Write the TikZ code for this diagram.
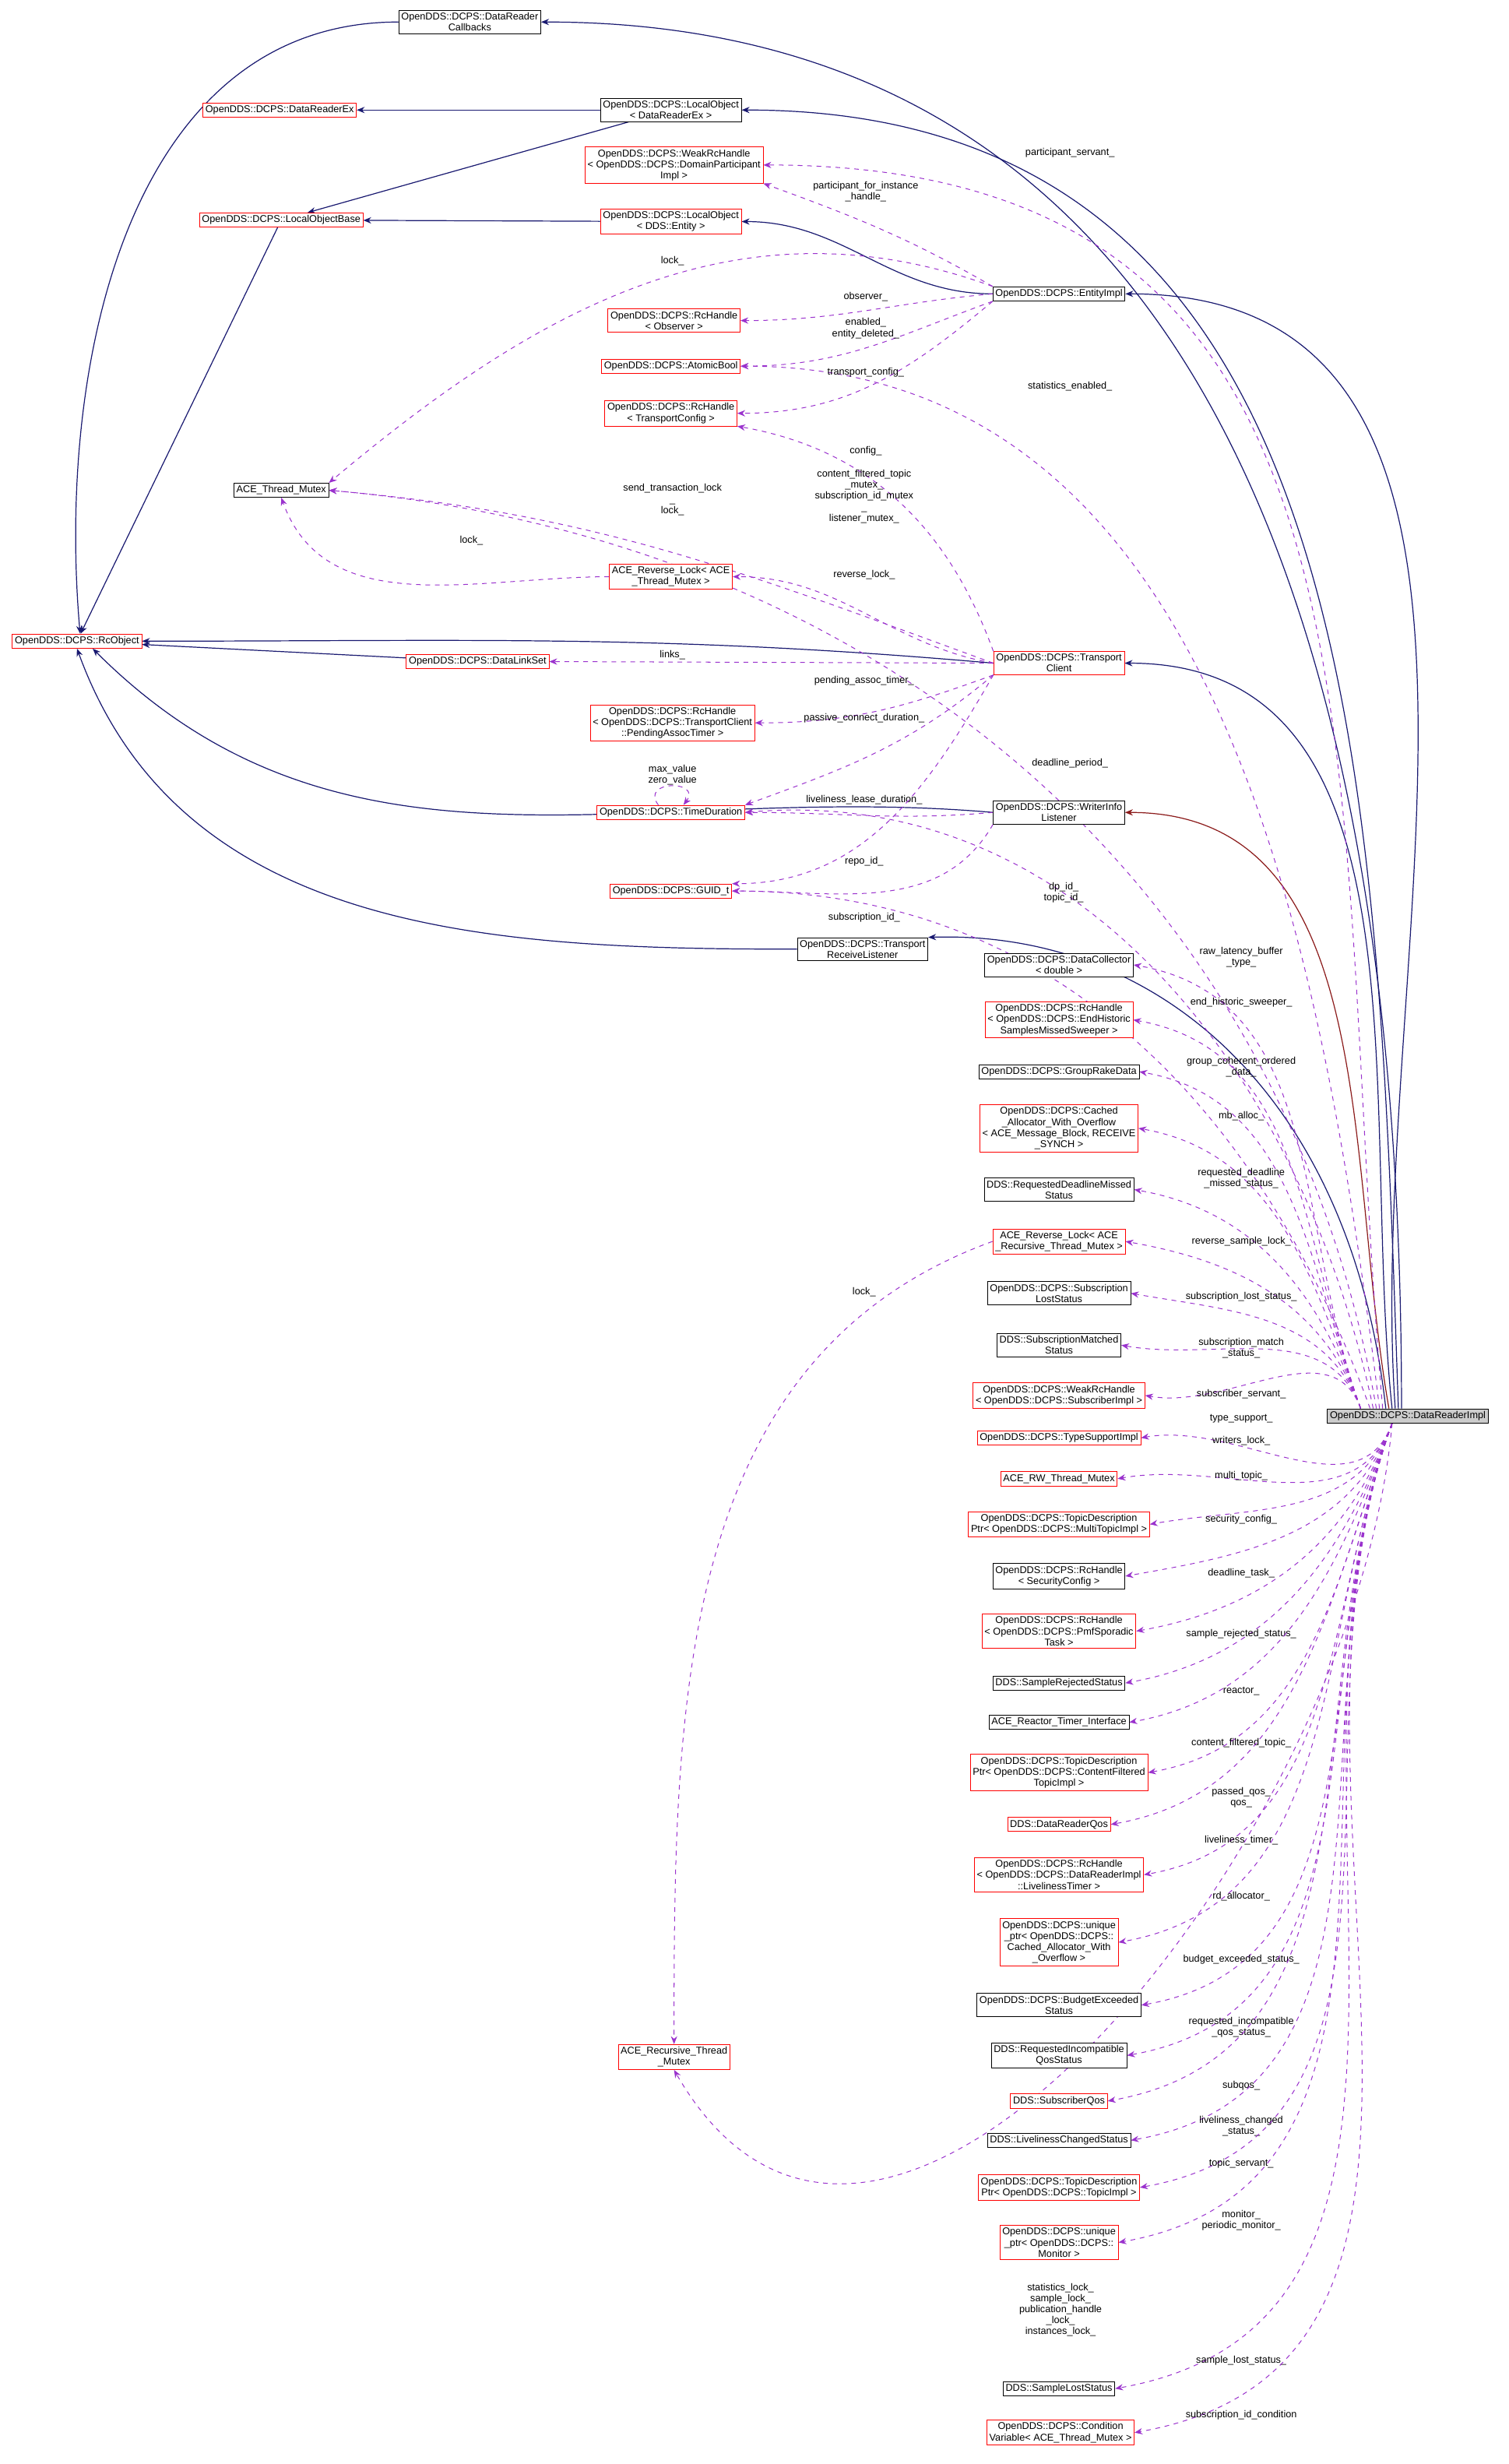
\documentclass[tikz,border=0pt]{standalone}
\usepackage{fontspec}
\setmainfont{Liberation Sans}
\usetikzlibrary{arrows.meta,backgrounds}
\definecolor{inhcol}{HTML}{191970}
\definecolor{privcol}{HTML}{8B1A1A}
\definecolor{usecol}{HTML}{9A32CD}
\tikzset{
  cls/.style={draw=black, inner sep=1.6pt, align=center, font=\fontsize{6.3}{7}\selectfont, fill=white},
  rcls/.style={cls, draw=red},
  lbl/.style={inner sep=0pt, align=center, font=\fontsize{6.3}{7}\selectfont},
  inh/.style={draw=inhcol, line width=0.6pt, -{Stealth[length=5pt,width=4pt]}},
  priv/.style={inh, draw=privcol},
  use/.style={draw=usecol, dashed, line width=0.5pt, -{Stealth[length=5pt,width=4pt]}, fill=none},
}
\begin{document}
\begin{tikzpicture}[x=1pt,y=1pt]
\useasboundingbox (0,0) rectangle (960,-1568);

% left and middle classes
\node[cls]  (cb)   at (299,-14)  {OpenDDS::DCPS::DataReader\\Callbacks};
\node[rcls] (drex) at (178,-70)  {OpenDDS::DCPS::DataReaderEx};
\node[cls]  (lodr) at (427,-70)  {OpenDDS::DCPS::LocalObject\\< DataReaderEx >};
\node[rcls] (wdp)  at (429,-105) {OpenDDS::DCPS::WeakRcHandle\\< OpenDDS::DCPS::DomainParticipant\\Impl >};
\node[rcls] (lob)  at (179,-140) {OpenDDS::DCPS::LocalObjectBase};
\node[rcls] (loe)  at (427,-141) {OpenDDS::DCPS::LocalObject\\< DDS::Entity >};
\node[cls]  (ent)  at (674,-187) {OpenDDS::DCPS::EntityImpl};
\node[rcls] (obs)  at (429,-204) {OpenDDS::DCPS::RcHandle\\< Observer >};
\node[rcls] (ab)   at (427,-233) {OpenDDS::DCPS::AtomicBool};
\node[rcls] (tcfg) at (427,-263) {OpenDDS::DCPS::RcHandle\\< TransportConfig >};
\node[cls]  (tm)   at (179,-312) {ACE\_Thread\_Mutex};
\node[rcls] (rl)   at (427,-367) {ACE\_Reverse\_Lock< ACE\\\_Thread\_Mutex >};
\node[rcls] (rco)  at (49,-408)  {OpenDDS::DCPS::RcObject};
\node[rcls] (dls)  at (304,-421) {OpenDDS::DCPS::DataLinkSet};
\node[rcls] (tc)   at (674,-422) {OpenDDS::DCPS::Transport\\Client};
\node[rcls] (pat)  at (428,-460) {OpenDDS::DCPS::RcHandle\\< OpenDDS::DCPS::TransportClient\\::PendingAssocTimer >};
\node[rcls] (td)   at (427,-517) {OpenDDS::DCPS::TimeDuration};
\node[cls]  (wil)  at (674,-517) {OpenDDS::DCPS::WriterInfo\\Listener};
\node[rcls] (guid) at (427,-567) {OpenDDS::DCPS::GUID\_t};
\node[cls]  (trl)  at (549,-604) {OpenDDS::DCPS::Transport\\ReceiveListener};
\node[rcls] (rtm)  at (429,-1309) {ACE\_Recursive\_Thread\\\_Mutex};

% right column
\node[cls]  (dc)   at (674,-614)  {OpenDDS::DCPS::DataCollector\\< double >};
\node[rcls] (ehs)  at (674,-649)  {OpenDDS::DCPS::RcHandle\\< OpenDDS::DCPS::EndHistoric\\SamplesMissedSweeper >};
\node[cls]  (grd)  at (674,-682)  {OpenDDS::DCPS::GroupRakeData};
\node[rcls] (cao)  at (674,-718)  {OpenDDS::DCPS::Cached\\\_Allocator\_With\_Overflow\\< ACE\_Message\_Block, RECEIVE\\\_SYNCH >};
\node[cls]  (rdm)  at (674,-757)  {DDS::RequestedDeadlineMissed\\Status};
\node[rcls] (rrl)  at (674,-790)  {ACE\_Reverse\_Lock< ACE\\\_Recursive\_Thread\_Mutex >};
\node[cls]  (sls)  at (674,-823)  {OpenDDS::DCPS::Subscription\\LostStatus};
\node[cls]  (sms)  at (674,-856)  {DDS::SubscriptionMatched\\Status};
\node[rcls] (wsi)  at (674,-888)  {OpenDDS::DCPS::WeakRcHandle\\< OpenDDS::DCPS::SubscriberImpl >};
\node[rcls] (tsi)  at (674,-915)  {OpenDDS::DCPS::TypeSupportImpl};
\node[rcls] (rw)   at (674,-941)  {ACE\_RW\_Thread\_Mutex};
\node[rcls] (mt)   at (674,-970)  {OpenDDS::DCPS::TopicDescription\\Ptr< OpenDDS::DCPS::MultiTopicImpl >};
\node[cls]  (sec)  at (674,-1003) {OpenDDS::DCPS::RcHandle\\< SecurityConfig >};
\node[rcls] (pmf)  at (674,-1038) {OpenDDS::DCPS::RcHandle\\< OpenDDS::DCPS::PmfSporadic\\Task >};
\node[cls]  (srs)  at (674,-1071) {DDS::SampleRejectedStatus};
\node[cls]  (rti)  at (674,-1096) {ACE\_Reactor\_Timer\_Interface};
\node[rcls] (cft)  at (674,-1128) {OpenDDS::DCPS::TopicDescription\\Ptr< OpenDDS::DCPS::ContentFiltered\\TopicImpl >};
\node[rcls] (drq)  at (674,-1161) {DDS::DataReaderQos};
\node[rcls] (lt)   at (674,-1193) {OpenDDS::DCPS::RcHandle\\< OpenDDS::DCPS::DataReaderImpl\\::LivelinessTimer >};
\node[rcls] (upc)  at (674,-1236) {OpenDDS::DCPS::unique\\\_ptr< OpenDDS::DCPS::\\Cached\_Allocator\_With\\\_Overflow >};
\node[cls]  (bes)  at (674,-1276) {OpenDDS::DCPS::BudgetExceeded\\Status};
\node[cls]  (riq)  at (674,-1308) {DDS::RequestedIncompatible\\QosStatus};
\node[rcls] (sq)   at (674,-1337) {DDS::SubscriberQos};
\node[cls]  (lcs)  at (674,-1362) {DDS::LivelinessChangedStatus};
\node[rcls] (tpi)  at (674,-1392) {OpenDDS::DCPS::TopicDescription\\Ptr< OpenDDS::DCPS::TopicImpl >};
\node[rcls] (upm)  at (674,-1427) {OpenDDS::DCPS::unique\\\_ptr< OpenDDS::DCPS::\\Monitor >};
\node[cls]  (slo)  at (674,-1520) {DDS::SampleLostStatus};
\node[rcls] (cv)   at (675,-1548) {OpenDDS::DCPS::Condition\\Variable< ACE\_Thread\_Mutex >};

\node[cls, fill=black!20] (dri) at (896,-901) {OpenDDS::DCPS::DataReaderImpl};

\begin{scope}[on background layer]
% inheritance
\draw[inh] ([xshift=-4]dri.north) to[out=90,in=0,looseness=1.1] (cb.east);
\draw[inh] ([xshift=-6]dri.north) to[out=92,in=0,looseness=1.1] (lodr.east);
\draw[inh] ([xshift=-8]dri.north) to[out=94,in=0] (ent.east);
\draw[inh] ([xshift=-10]dri.north) to[out=96,in=0] (tc.east);
\draw[priv] ([xshift=-12]dri.north) to[out=100,in=0] (wil.east);
\draw[inh] ([xshift=-14]dri.north) .. controls (860,-700) and (740,-592) .. (trl.north east);
\draw[inh] (lodr) -- (drex);
\draw[inh] (lodr) -- (lob);
\draw[inh] (loe) -- (lob);
\draw[inh] (ent) to[out=180,in=0] (loe);
\draw[inh] (lob) -- (rco);
\draw[inh] (cb.west) to[out=180,in=95] ([xshift=2]rco.north);
\draw[inh] (dls) -- (rco);
\draw[inh] (tc.west) to[out=175,in=0] (rco.east);
\draw[inh] (wil.west) to[out=175,in=-45] ([xshift=10]rco.south);
\draw[inh] (trl.west) to[out=180,in=-70] (rco.south);

% usage, upper part
\draw[use] ([xshift=-16]dri.north) to[out=95,in=0,looseness=1.2] (wdp.east);
\node[lbl] (l1) at (681,-97) {participant\_servant\_};
\draw[use] (ent.north west) to[out=150,in=-20] (wdp.south east);
\node[lbl] (l2) at (551,-122) {participant\_for\_instance\\\_handle\_};
\draw[use] (ent.north west) to[out=160,in=40] (tm.north east);
\node[lbl] (l3) at (428,-166) {lock\_};
\draw[use] (ent.west) to[out=185,in=0] (obs.east);
\node[lbl] (l4) at (551,-189) {observer\_};
\draw[use] (ent.south west) to[out=200,in=0] (ab.east);
\node[lbl] (l5) at (551,-209) {enabled\_\\entity\_deleted\_};
\draw[use] ([xshift=-18]dri.north) to[out=97,in=0] (ab.east);
\node[lbl] (l6) at (681,-246) {statistics\_enabled\_};
\draw[use] (ent.south west) to[out=220,in=0] (tcfg.east);
\node[lbl] (l7) at (551,-237) {transport\_config\_};
\draw[use] (tc.north west) to[out=110,in=-10] (tcfg.south east);
\node[lbl] (l8) at (551,-287) {config\_};
\draw[use] ([xshift=-20]dri.north) to[out=100,in=-5] (tm.east);
\node[lbl] (l9) at (550,-316) {content\_filtered\_topic\\\_mutex\_\\subscription\_id\_mutex\\\_\\listener\_mutex\_};
\draw[use] (tc.west) to[out=160,in=-5] (tm.east);
\node[lbl] (l10) at (428,-318) {send\_transaction\_lock\\\_\\lock\_};
\draw[use] (rl.west) to[out=180,in=-70] (tm.south);
\node[lbl] (l11) at (300,-344) {lock\_};
\draw[use] (tc.west) to[out=170,in=0] (rl.east);
\node[lbl] (l12) at (550,-366) {reverse\_lock\_};
\draw[use] (tc.west) -- (dls.east);
\node[lbl] (l13) at (428,-417) {links\_};
\draw[use] (tc.south west) to[out=200,in=0] (pat.east);
\node[lbl] (l14) at (550,-433) {pending\_assoc\_timer\_};
\draw[use] (tc.south west) to[out=220,in=20] (td.north east);
\node[lbl] (l15) at (550,-457) {passive\_connect\_duration\_};
\draw[use] ([xshift=-8]td.north) .. controls +(-12,16) and +(12,16) .. ([xshift=8]td.north);
\node[lbl] (l16) at (428,-493) {max\_value\\zero\_value};
\draw[use] (wil.west) to[out=185,in=0] (td.east);
\node[lbl] (l17) at (550,-509) {liveliness\_lease\_duration\_};
\draw[use] ([xshift=-22]dri.north) to[out=102,in=5] (td.east);
\node[lbl] (l18) at (681,-486) {deadline\_period\_};
\draw[use] (tc.south west) to[out=240,in=0] (guid.north east);
\node[lbl] (l19) at (550,-548) {repo\_id\_};
\draw[use] (wil.south west) to[out=240,in=0] (guid.east);
\node[lbl] (l20) at (550,-584) {subscription\_id\_};
\draw[use] ([xshift=-24]dri.north) to[out=110,in=0] (guid.east);
\node[lbl] (l21) at (677,-568) {dp\_id\_\\topic\_id\_};

% usage, right column above
\foreach \t/\ly/\txt in {dc/609/{raw\_latency\_buffer\\\_type\_}, ehs/638/{end\_historic\_sweeper\_},
  grd/679/{group\_coherent\_ordered\\\_data\_}, cao/710/{mb\_alloc\_},
  rdm/750/{requested\_deadline\\\_missed\_status\_}, rrl/790/{reverse\_sample\_lock\_},
  sls/825/{subscription\_lost\_status\_}, sms/858/{subscription\_match\\\_status\_},
  wsi/887/{subscriber\_servant\_}}
{
  \draw[use] ([xshift=-30]dri.north) to[out=110,in=-10] (\t.east);
  \node[lbl] (l\t) at (790,-\ly) {\txt};
}
% usage, right column below
\foreach \t/\ly/\txt in {tsi/903/{type\_support\_}, rw/917/{writers\_lock\_},
  mt/939/{multi\_topic\_}, sec/967/{security\_config\_}, pmf/1001/{deadline\_task\_},
  srs/1040/{sample\_rejected\_status\_}, rti/1076/{reactor\_},
  cft/1109/{content\_filtered\_topic\_}, drq/1144/{passed\_qos\_\\qos\_},
  lt/1171/{liveliness\_timer\_}, upc/1207/{rd\_allocator\_},
  bes/1247/{budget\_exceeded\_status\_}, riq/1290/{requested\_incompatible\\\_qos\_status\_},
  sq/1327/{subqos\_}, lcs/1353/{liveliness\_changed\\\_status\_},
  tpi/1377/{topic\_servant\_}, upm/1413/{monitor\_\\periodic\_monitor\_},
  slo/1502/{sample\_lost\_status\_}, cv/1537/{subscription\_id\_condition}}
{
  \draw[use] ([xshift=-10]dri.south) to[out=250,in=10] (\t.east);
  \node[lbl] (l\t) at (790,-\ly) {\txt};
}
\draw[use] (rrl.west) to[out=200,in=90] (rtm.north);
\node[lbl] (l50) at (550,-822) {lock\_};
\draw[use] ([xshift=-10]dri.south) to[out=265,in=-60,looseness=1.1] (rtm.south);
\node[lbl] (l51) at (675,-1470) {statistics\_lock\_\\sample\_lock\_\\publication\_handle\\\_lock\_\\instances\_lock\_};
\end{scope}
\end{tikzpicture}
\end{document}
